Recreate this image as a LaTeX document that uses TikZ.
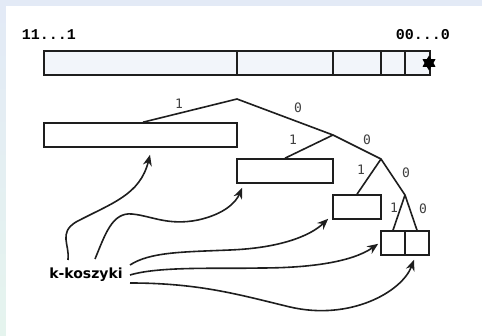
\documentclass[tikz,border=0pt]{standalone}
\usepackage{fontspec}
\usetikzlibrary{arrows.meta,shapes.geometric}
\newfontfamily\labelmono{Liberation Mono}
\newfontfamily\edgefont{DejaVu Sans Mono}
\newfontfamily\basketfont{DejaVu Sans}
\definecolor{frameblue}{HTML}{E3EAF6}
\definecolor{framegreen}{HTML}{E5F4EE}
\definecolor{barfill}{HTML}{F2F5FA}
\definecolor{ink}{HTML}{1E1E1E}
\definecolor{edgegray}{HTML}{404040}
\begin{document}
\begin{tikzpicture}[x=1pt,y=-1pt,
  cell/.style={draw=ink,line width=1.6pt,rectangle,inner sep=0pt,minimum height=24pt},
  barcell/.style={cell,fill=barfill},
  bucket/.style={cell,fill=white},
  branch/.style={draw=ink,line width=1.6pt},
  bit/.style={font=\edgefont\fontsize{13}{13}\selectfont,text=edgegray,inner sep=0pt},
  ends/.style={font=\labelmono\bfseries\fontsize{15}{15}\selectfont,inner sep=0pt},
  pointer/.style={draw=ink,line width=1.6pt,-{Stealth[length=11pt,width=9pt]}}]
% frame and page
\useasboundingbox (0,0) rectangle (482,336);
\fill[frameblue] (0,0) rectangle (482,6);
\shade[top color=frameblue,bottom color=framegreen] (0,6) rectangle (6,336);
\fill[white] (6,6) rectangle (482,336);

% bit-string labels
\node[ends] (hi) at (49,35) {11...1};
\node[ends] (lo) at (423,35) {00...0};

% the array of buckets
\node[barcell,minimum width=193pt] (s1) at (140.5,63) {};
\node[barcell,minimum width=96pt] (s2) at (285,63) {};
\node[barcell,minimum width=48pt] (s3) at (357,63) {};
\node[barcell,minimum width=24pt] (s4) at (393,63) {};
\node[barcell,minimum width=25pt] (s5) at (417.5,63) {};
\node[star,star points=6,star point ratio=1.7,fill=black,inner sep=0pt,minimum size=15pt] (mark) at (429,63) {};

% trie
\coordinate (r) at (237,99);
\coordinate (n1) at (333,135);
\coordinate (n2) at (381,159);
\coordinate (n3) at (405,195);
\node[bucket,minimum width=193pt] (b1) at (140.5,135) {};
\node[bucket,minimum width=96pt] (b2) at (285,171) {};
\node[bucket,minimum width=48pt] (b3) at (357,207) {};
\node[bucket,minimum width=24pt] (b4a) at (393,243) {};
\node[bucket,minimum width=24pt] (b4b) at (417,243) {};

\draw[branch] ([xshift=2.5pt]b1.north) -- (r) -- (n1) -- (n2) -- (n3) -- (b4b.north);
\draw[branch] (n1) -- (b2.north);
\draw[branch] (n2) -- (b3.north);
\draw[branch] (n3) -- (b4a.north);

\node[bit] (e1) at (179,104) {1};
\node[bit] (e2) at (298,108) {0};
\node[bit] (e3) at (293,140) {1};
\node[bit] (e4) at (367,140) {0};
\node[bit] (e5) at (361,170) {1};
\node[bit] (e6) at (406,173) {0};
\node[bit] (e7) at (394,208) {1};
\node[bit] (e8) at (423,209) {0};

% k-buckets
\node[font=\basketfont\bfseries\fontsize{14}{14}\selectfont,inner sep=0pt] (k) at (86,275) {k-koszyki};
\coordinate (p1) at (68,260);
\coordinate (p2) at (95,259);
\coordinate (p3) at (130,265);
\coordinate (p4) at (130,275);
\coordinate (p5) at (130,283);

\draw[pointer] (p1) .. controls (70,245) and (58,233) .. (76,222)
  .. controls (112,203) and (140,195) .. ([xshift=9.5pt,yshift=-7pt]b1.south);
\draw[pointer] (p2) .. controls (105,235) and (112,212) .. (132,214)
  .. controls (152,216) and (168,226) .. (198,220)
  .. controls (225,214) and (236,202) .. ([xshift=6pt,yshift=-4pt]b2.south west);
\draw[pointer] (p3) .. controls (150,252) and (182,252) .. (230,250)
  .. controls (280,248) and (310,236) .. ([xshift=-4pt,yshift=1pt]b3.south west);
\draw[pointer] (p4) .. controls (160,266) and (220,269) .. (260,268)
  .. controls (310,268) and (352,262) .. ([xshift=-2pt,yshift=12pt]b4a.south west);
\draw[pointer] (p5) .. controls (200,283) and (240,295) .. (290,307)
  .. controls (350,321) and (402,292) .. ([xshift=-3pt,yshift=-4pt]b4b.south);
\end{tikzpicture}
\end{document}
